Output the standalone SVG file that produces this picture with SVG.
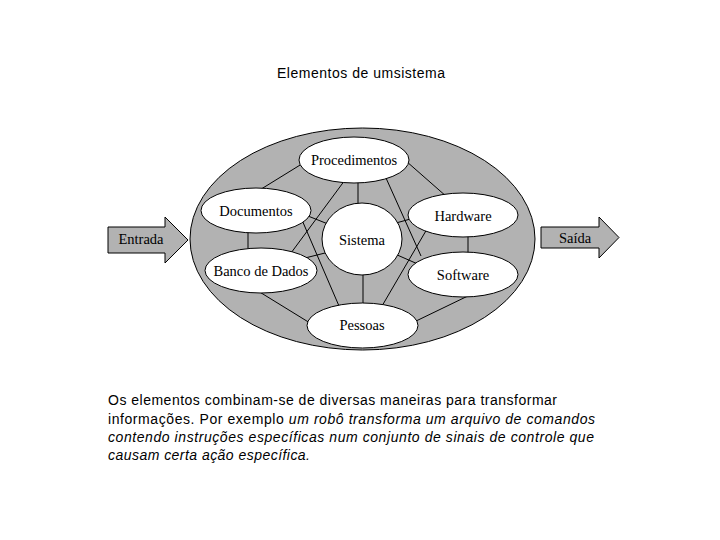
<svg xmlns="http://www.w3.org/2000/svg" width="720" height="540" viewBox="0 0 720 540">
<style>
.node{fill:#ffffff;stroke:#000;stroke-width:1}
.lbl{font-family:"Liberation Serif","Times New Roman",serif;font-size:14.5px;fill:#000;text-anchor:middle}
.arrow{fill:#b2b2b2;stroke:#000;stroke-width:1}
.conn line{stroke:#000;stroke-width:1}
.sans{font-family:"Liberation Sans",Arial,sans-serif;font-size:14px;fill:#000}
</style>
<rect width="720" height="540" fill="#fff"/>
<text class="sans" x="277" y="78" textLength="168" lengthAdjust="spacing">Elementos de umsistema</text>

<g id="sistema-ring">
<ellipse cx="362.5" cy="239" rx="172.5" ry="111" fill="#b2b2b2" stroke="#000"/>
</g>

<g id="entrada">
<polygon class="arrow" points="108,227 165,227 165,217 188,240 165,263 165,253 108,253"/>
<text class="lbl" x="141" y="244">Entrada</text>
</g>
<g id="saida">
<polygon class="arrow" points="541,227 599,227 599,217 619,237.5 599,258 599,248 541,248"/>
<text class="lbl" x="575" y="243">Saída</text>
</g>

<g class="conn" id="connectors">
<line x1="305" y1="162" x2="258" y2="191"/>
<line x1="358" y1="180" x2="358" y2="206"/>
<line x1="406" y1="161" x2="447" y2="197"/>
<line x1="345" y1="180" x2="291" y2="253"/>
<line x1="386" y1="178" x2="421" y2="256"/>
<line x1="248" y1="228" x2="248" y2="251"/>
<line x1="308" y1="216" x2="328" y2="224"/>
<line x1="302" y1="220" x2="339" y2="306"/>
<line x1="305" y1="258" x2="329" y2="252"/>
<line x1="258" y1="291" x2="310" y2="323"/>
<line x1="396" y1="223" x2="414" y2="218"/>
<line x1="468" y1="234" x2="468" y2="255"/>
<line x1="427" y1="229" x2="382" y2="306"/>
<line x1="395" y1="254" x2="420" y2="265"/>
<line x1="472" y1="294" x2="414" y2="322"/>
<line x1="363" y1="272" x2="363" y2="306"/>
</g>

<g id="procedimentos">
<ellipse class="node" cx="354" cy="160" rx="55" ry="23"/>
<text class="lbl" x="354" y="165">Procedimentos</text>
</g>
<g id="documentos">
<ellipse class="node" cx="256" cy="210.5" rx="55" ry="22.5"/>
<text class="lbl" x="256" y="216">Documentos</text>
</g>
<g id="banco">
<ellipse class="node" cx="261" cy="270.5" rx="56" ry="22.5"/>
<text class="lbl" x="261" y="276">Banco de Dados</text>
</g>
<g id="sistema">
<ellipse class="node" cx="362" cy="239" rx="40" ry="36"/>
<text class="lbl" x="362" y="245">Sistema</text>
</g>
<g id="hardware">
<ellipse class="node" cx="463" cy="215" rx="55" ry="22"/>
<text class="lbl" x="463" y="221">Hardware</text>
</g>
<g id="software">
<ellipse class="node" cx="463" cy="274.5" rx="55" ry="22.5"/>
<text class="lbl" x="463" y="280">Software</text>
</g>
<g id="pessoas">
<ellipse class="node" cx="362.5" cy="325.5" rx="55.5" ry="22.5"/>
<text class="lbl" x="362" y="330">Pessoas</text>
</g>

<g id="descricao" class="sans">
<text x="108" y="405" textLength="449" lengthAdjust="spacing">Os elementos combinam-se de diversas maneiras para transformar</text>
<text x="108" y="424" textLength="487" lengthAdjust="spacing">informações. Por exemplo <tspan font-style="italic">um robô transforma um arquivo de comandos</tspan></text>
<text x="108" y="442" font-style="italic" textLength="486" lengthAdjust="spacing">contendo instruções específicas num conjunto de sinais de controle que</text>
<text x="108" y="460" font-style="italic" textLength="202" lengthAdjust="spacing">causam certa ação específica.</text>
</g>
</svg>
